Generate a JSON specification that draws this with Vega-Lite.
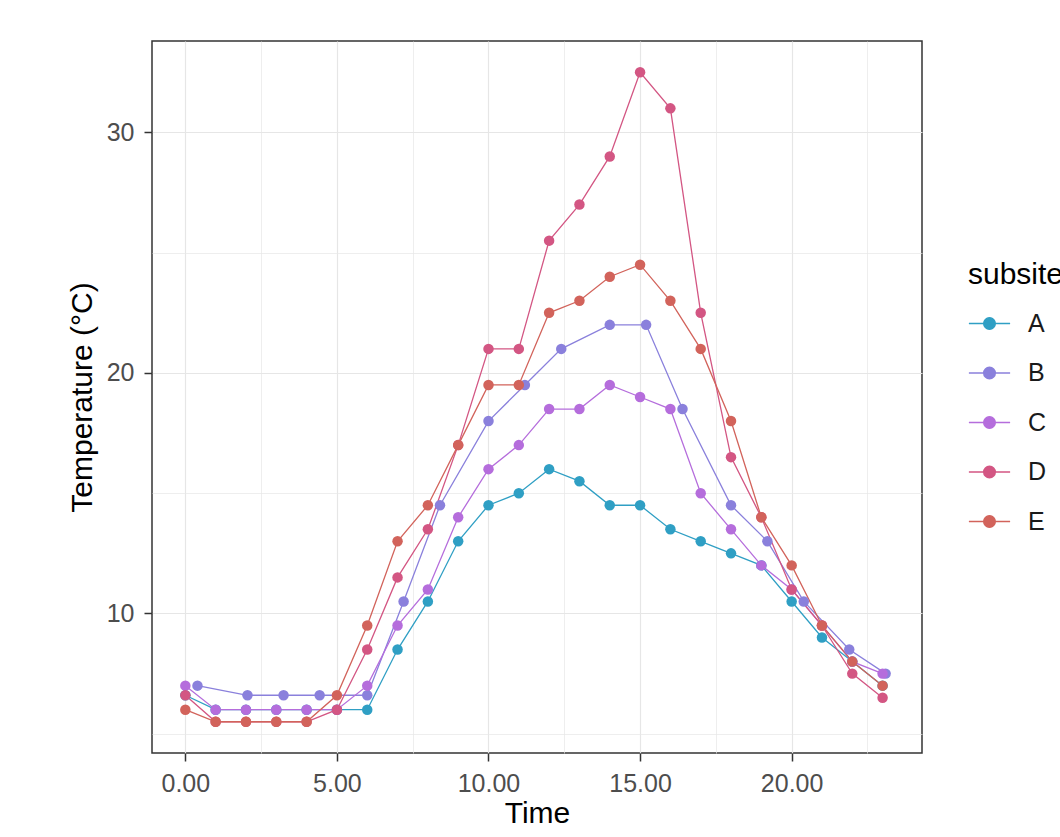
{
  "$schema": "https://vega.github.io/schema/vega-lite/v6.json",
  "width": 770,
  "height": 712,
  "autosize": {"type": "none"},
  "padding": {"left": 152, "top": 41, "right": 138, "bottom": 84},
  "background": "white",
  "config": {
    "font": "Liberation Sans",
    "view": {"stroke": "#333333", "strokeWidth": 1.5},
    "axis": {
      "labelFont": "Liberation Sans",
      "titleFont": "Liberation Sans",
      "labelFontSize": 25,
      "labelColor": "#4d4d4d",
      "titleFontSize": 30,
      "titleFontWeight": "normal",
      "titleColor": "#000000",
      "tickSize": 8,
      "tickWidth": 1.5,
      "domain": false,
      "gridColor": "#e6e6e6"
    }
  },
  "data": {
    "values": [
      {"subsite": "A", "time": 0, "temp": 6.6}, {"subsite": "A", "time": 1, "temp": 6.0}, {"subsite": "A", "time": 2, "temp": 6.0}, {"subsite": "A", "time": 3, "temp": 6.0}, {"subsite": "A", "time": 4, "temp": 6.0}, {"subsite": "A", "time": 5, "temp": 6.0}, {"subsite": "A", "time": 6, "temp": 6.0}, {"subsite": "A", "time": 7, "temp": 8.5}, {"subsite": "A", "time": 8, "temp": 10.5}, {"subsite": "A", "time": 9, "temp": 13.0}, {"subsite": "A", "time": 10, "temp": 14.5}, {"subsite": "A", "time": 11, "temp": 15.0}, {"subsite": "A", "time": 12, "temp": 16.0}, {"subsite": "A", "time": 13, "temp": 15.5}, {"subsite": "A", "time": 14, "temp": 14.5}, {"subsite": "A", "time": 15, "temp": 14.5}, {"subsite": "A", "time": 16, "temp": 13.5}, {"subsite": "A", "time": 17, "temp": 13.0}, {"subsite": "A", "time": 18, "temp": 12.5}, {"subsite": "A", "time": 19, "temp": 12.0}, {"subsite": "A", "time": 20, "temp": 10.5}, {"subsite": "A", "time": 21, "temp": 9.0}, {"subsite": "A", "time": 22, "temp": 8.0}, {"subsite": "A", "time": 23, "temp": 7.0},
      {"subsite": "B", "time": 0.4, "temp": 7.0}, {"subsite": "B", "time": 2.05, "temp": 6.6}, {"subsite": "B", "time": 3.24, "temp": 6.6}, {"subsite": "B", "time": 4.43, "temp": 6.6}, {"subsite": "B", "time": 6.0, "temp": 6.6}, {"subsite": "B", "time": 7.2, "temp": 10.5}, {"subsite": "B", "time": 8.4, "temp": 14.5}, {"subsite": "B", "time": 10.0, "temp": 18.0}, {"subsite": "B", "time": 11.2, "temp": 19.5}, {"subsite": "B", "time": 12.4, "temp": 21.0}, {"subsite": "B", "time": 14.0, "temp": 22.0}, {"subsite": "B", "time": 15.2, "temp": 22.0}, {"subsite": "B", "time": 16.4, "temp": 18.5}, {"subsite": "B", "time": 18.0, "temp": 14.5}, {"subsite": "B", "time": 19.2, "temp": 13.0}, {"subsite": "B", "time": 20.4, "temp": 10.5}, {"subsite": "B", "time": 21.9, "temp": 8.5}, {"subsite": "B", "time": 23.1, "temp": 7.5},
      {"subsite": "C", "time": 0, "temp": 7.0}, {"subsite": "C", "time": 1, "temp": 6.0}, {"subsite": "C", "time": 2, "temp": 6.0}, {"subsite": "C", "time": 3, "temp": 6.0}, {"subsite": "C", "time": 4, "temp": 6.0}, {"subsite": "C", "time": 5, "temp": 6.0}, {"subsite": "C", "time": 6, "temp": 7.0}, {"subsite": "C", "time": 7, "temp": 9.5}, {"subsite": "C", "time": 8, "temp": 11.0}, {"subsite": "C", "time": 9, "temp": 14.0}, {"subsite": "C", "time": 10, "temp": 16.0}, {"subsite": "C", "time": 11, "temp": 17.0}, {"subsite": "C", "time": 12, "temp": 18.5}, {"subsite": "C", "time": 13, "temp": 18.5}, {"subsite": "C", "time": 14, "temp": 19.5}, {"subsite": "C", "time": 15, "temp": 19.0}, {"subsite": "C", "time": 16, "temp": 18.5}, {"subsite": "C", "time": 17, "temp": 15.0}, {"subsite": "C", "time": 18, "temp": 13.5}, {"subsite": "C", "time": 19, "temp": 12.0}, {"subsite": "C", "time": 20, "temp": 11.0}, {"subsite": "C", "time": 21, "temp": 9.5}, {"subsite": "C", "time": 22, "temp": 8.0}, {"subsite": "C", "time": 23, "temp": 7.5},
      {"subsite": "D", "time": 0, "temp": 6.6}, {"subsite": "D", "time": 1, "temp": 5.5}, {"subsite": "D", "time": 2, "temp": 5.5}, {"subsite": "D", "time": 3, "temp": 5.5}, {"subsite": "D", "time": 4, "temp": 5.5}, {"subsite": "D", "time": 5, "temp": 6.0}, {"subsite": "D", "time": 6, "temp": 8.5}, {"subsite": "D", "time": 7, "temp": 11.5}, {"subsite": "D", "time": 8, "temp": 13.5}, {"subsite": "D", "time": 9, "temp": 17.0}, {"subsite": "D", "time": 10, "temp": 21.0}, {"subsite": "D", "time": 11, "temp": 21.0}, {"subsite": "D", "time": 12, "temp": 25.5}, {"subsite": "D", "time": 13, "temp": 27.0}, {"subsite": "D", "time": 14, "temp": 29.0}, {"subsite": "D", "time": 15, "temp": 32.5}, {"subsite": "D", "time": 16, "temp": 31.0}, {"subsite": "D", "time": 17, "temp": 22.5}, {"subsite": "D", "time": 18, "temp": 16.5}, {"subsite": "D", "time": 19, "temp": 14.0}, {"subsite": "D", "time": 20, "temp": 11.0}, {"subsite": "D", "time": 21, "temp": 9.5}, {"subsite": "D", "time": 22, "temp": 7.5}, {"subsite": "D", "time": 23, "temp": 6.5},
      {"subsite": "E", "time": 0, "temp": 6.0}, {"subsite": "E", "time": 1, "temp": 5.5}, {"subsite": "E", "time": 2, "temp": 5.5}, {"subsite": "E", "time": 3, "temp": 5.5}, {"subsite": "E", "time": 4, "temp": 5.5}, {"subsite": "E", "time": 5, "temp": 6.6}, {"subsite": "E", "time": 6, "temp": 9.5}, {"subsite": "E", "time": 7, "temp": 13.0}, {"subsite": "E", "time": 8, "temp": 14.5}, {"subsite": "E", "time": 9, "temp": 17.0}, {"subsite": "E", "time": 10, "temp": 19.5}, {"subsite": "E", "time": 11, "temp": 19.5}, {"subsite": "E", "time": 12, "temp": 22.5}, {"subsite": "E", "time": 13, "temp": 23.0}, {"subsite": "E", "time": 14, "temp": 24.0}, {"subsite": "E", "time": 15, "temp": 24.5}, {"subsite": "E", "time": 16, "temp": 23.0}, {"subsite": "E", "time": 17, "temp": 21.0}, {"subsite": "E", "time": 18, "temp": 18.0}, {"subsite": "E", "time": 19, "temp": 14.0}, {"subsite": "E", "time": 20, "temp": 12.0}, {"subsite": "E", "time": 21, "temp": 9.5}, {"subsite": "E", "time": 22, "temp": 8.0}, {"subsite": "E", "time": 23, "temp": 7.0}
    ]
  },
  "encoding": {
    "x": {
      "field": "time", "type": "quantitative", "title": "Time",
      "scale": {"domain": [-1.1, 24.3], "nice": false, "zero": false},
      "axis": {
        "values": [0, 2.5, 5, 7.5, 10, 12.5, 15, 17.5, 20, 22.5],
        "labelExpr": "datum.value % 5 === 0 ? format(datum.value, '.2f') : ''",
        "labelPadding": 10,
        "titlePadding": 2,
        "tickColor": {"condition": {"test": "datum.value % 5 === 0", "value": "#333333"}, "value": "transparent"},
        "gridWidth": {"condition": {"test": "datum.value % 5 === 0", "value": 1.2}, "value": 0.7}
      }
    },
    "y": {
      "field": "temp", "type": "quantitative", "title": "Temperature (°C)",
      "scale": {"domain": [4.2, 33.8], "nice": false, "zero": false},
      "axis": {
        "values": [5, 10, 15, 20, 25, 30],
        "labelExpr": "datum.value % 10 === 0 ? datum.label : ''",
        "labelPadding": 10,
        "titlePadding": 9,
        "tickColor": {"condition": {"test": "datum.value % 10 === 0", "value": "#333333"}, "value": "transparent"},
        "gridWidth": {"condition": {"test": "datum.value % 10 === 0", "value": 1.2}, "value": 0.7}
      }
    },
    "color": {
      "field": "subsite", "type": "nominal",
      "scale": {"domain": ["A", "B", "C", "D", "E"], "range": ["#2f9fc4", "#8a80dc", "#b56ddc", "#d35683", "#d2635b"]},
      "legend": {
        "title": "subsite",
        "orient": "none",
        "legendX": 816,
        "legendY": 219,
        "titleFontSize": 30,
        "titleFontWeight": "normal",
        "titleColor": "#000000",
        "titlePadding": 12,
        "labelFontSize": 25,
        "labelColor": "#1a1a1a",
        "labelOffset": 17,
        "rowPadding": 14.5,
        "symbolType": "M-1,0H1M-0.28,0A0.28,0.28,0,1,1,0.28,0A0.28,0.28,0,1,1,-0.28,0",
        "symbolSize": 1700,
        "symbolStrokeWidth": 1.5,
        "symbolOpacity": 1,
        "encode": {"symbols": {"update": {"fill": {"scale": "color", "field": "value"}, "stroke": {"scale": "color", "field": "value"}, "opacity": {"value": 1}}}}
      }
    }
  },
  "layer": [
    {"mark": {"type": "line", "strokeWidth": 1.3}},
    {"mark": {"type": "point", "filled": true, "size": 110, "opacity": 1}}
  ]
}
